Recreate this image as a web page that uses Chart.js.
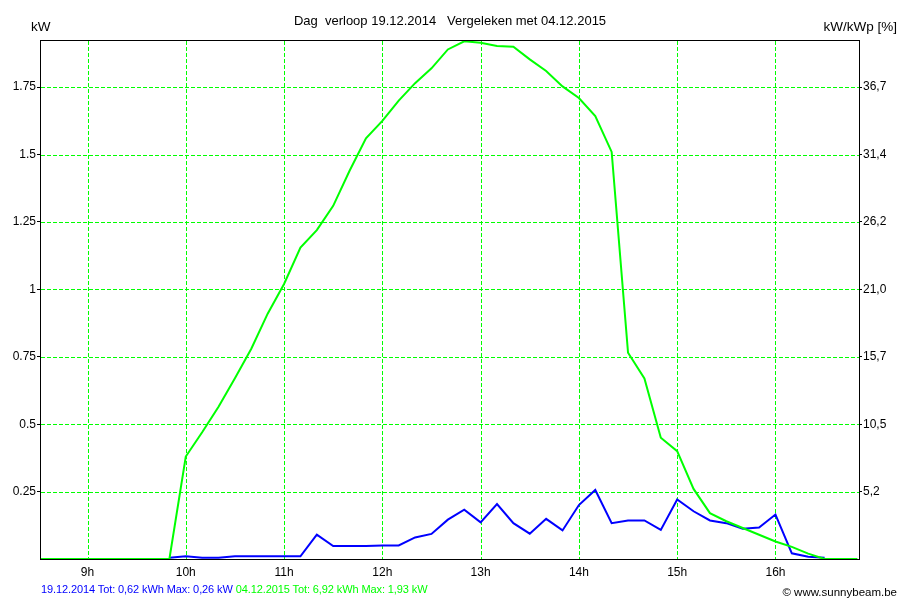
<!DOCTYPE html>
<html>
<head>
<meta charset="utf-8">
<script src="https://cdn.jsdelivr.net/npm/chart.js@4.4.1/dist/chart.umd.min.js"></script>
<style>
    body { margin: 0; background: #fff; }
    #wrap { position: relative; width: 900px; height: 600px; font-family: "Liberation Sans", Arial, sans-serif; font-size: 12px; }
    #wrap canvas { position: absolute; left: 0; top: 0; }
    .lbl { position: absolute; white-space: pre; }
</style>
</head>
<body>
<div id="wrap">
    <canvas id="dayChart" width="900" height="600"></canvas>
    <div class="lbl" style="left:0; width:900px; text-align:center; top:13px; font-size:13px; line-height:15px;">Dag  verloop 19.12.2014   Vergeleken met 04.12.2015</div>
    <div class="lbl" style="left:31px; top:19px; font-size:13.5px; line-height:15px;">kW</div>
    <div class="lbl" style="right:3px; top:19px; font-size:13.5px; line-height:15px;">kW/kWp [%]</div>
    <div class="lbl" style="left:41px; top:583px; font-size:11px; line-height:13px; letter-spacing:-0.1px;"><span style="color:#0000ff">19.12.2014 Tot: 0,62 kWh Max: 0,26 kW</span> <span style="color:#00ff00">04.12.2015 Tot: 6,92 kWh Max: 1,93 kW</span></div>
    <div class="lbl" style="right:3px; top:586px; font-size:11.5px; line-height:13px;">© www.sunnybeam.be</div>
</div>
<script>
// 10 minute samples
const times = [
    '08:30', '08:40', '08:50', '09:00', '09:10', '09:20', '09:30', '09:40', '09:50',
    '10:00', '10:10', '10:20', '10:30', '10:40', '10:50',
    '11:00', '11:10', '11:20', '11:30', '11:40', '11:50',
    '12:00', '12:10', '12:20', '12:30', '12:40', '12:50',
    '13:00', '13:10', '13:20', '13:30', '13:40', '13:50',
    '14:00', '14:10', '14:20', '14:30', '14:40', '14:50',
    '15:00', '15:10', '15:20', '15:30', '15:40', '15:50',
    '16:00', '16:10', '16:20', '16:30', '16:40', '16:50'
];

// 04.12.2015 (green), kW
const power2015 = [
    0, 0, 0, 0, 0, 0, 0, 0, 0,
    0.38, 0.47, 0.565, 0.67, 0.78, 0.91,
    1.02, 1.155, 1.22, 1.31, 1.44, 1.56,
    1.625, 1.70, 1.765, 1.82, 1.89, 1.92,
    1.915, 1.903, 1.90, 1.853, 1.81, 1.753,
    1.71, 1.643, 1.51, 0.765, 0.67, 0.45,
    0.40, 0.26, 0.17, 0.14, 0.115, 0.09,
    0.065, 0.045, 0.02, 0, 0, 0
];

// 19.12.2014 (blue), kW
const power2014 = [
    null, null, null, null, null, null, null, null, 0.005,
    0.01, 0.005, 0.005, 0.01, 0.01, 0.01,
    0.01, 0.01, 0.09, 0.048, 0.048, 0.048,
    0.05, 0.05, 0.08, 0.093, 0.146, 0.183,
    0.136, 0.204, 0.133, 0.094, 0.149, 0.106,
    0.2, 0.256, 0.133, 0.143, 0.143, 0.108,
    0.221, 0.177, 0.143, 0.133, 0.112, 0.117,
    0.165, 0.021, 0.008, 0.005, null, null
];

const hourTicks = [9, 10, 11, 12, 13, 14, 15, 16];
const kwTicks = [0.25, 0.5, 0.75, 1, 1.25, 1.5, 1.75];
const kwLabels = ['0.25', '0.5', '0.75', '1', '1.25', '1.5', '1.75'];
const pctLabels = ['5,2', '10,5', '15,7', '21,0', '26,2', '31,4', '36,7'];

const toHours = (t) => {
    const [h, m] = t.split(':').map(Number);
    return h + m / 60;
};
const toPoints = (values) => times.map((t, i) => ({ x: toHours(t), y: values[i] }));

const gridGreen = '#00ff00';

// crisp dashed grid (4 on, 2 off) at the tick positions of the scales
const dashGridPlugin = {
    id: 'dashGrid',
    beforeDatasetsDraw(chart) {
        const { ctx, chartArea: a, scales } = chart;
        const left = Math.round(a.left), right = Math.round(a.right);
        const top = Math.round(a.top), bottom = Math.round(a.bottom);
        ctx.save();
        ctx.fillStyle = gridGreen;
        scales.x.ticks.forEach(t => {
            const x = Math.round(scales.x.getPixelForValue(t.value));
            for (let y = top + 1; y < bottom; y += 6) {
                ctx.fillRect(x, y, 1, Math.min(4, bottom - y));
            }
        });
        scales.y.ticks.forEach(t => {
            const y = Math.round(scales.y.getPixelForValue(t.value));
            for (let x = left + 1; x < right; x += 6) {
                ctx.fillRect(x, y, Math.min(4, right - x), 1);
            }
        });
        ctx.restore();
    }
};

// black frame round the plot area
const framePlugin = {
    id: 'frame',
    afterDraw(chart) {
        const { ctx, chartArea: a } = chart;
        ctx.save();
        ctx.fillStyle = '#000';
        const left = Math.round(a.left), right = Math.round(a.right);
        const top = Math.round(a.top), bottom = Math.round(a.bottom);
        ctx.fillRect(left, top, right - left + 1, 1);
        ctx.fillRect(left, bottom, right - left + 1, 1);
        ctx.fillRect(left, top, 1, bottom - top + 1);
        ctx.fillRect(right, top, 1, bottom - top + 1);
        ctx.restore();
    }
};

const font = { family: '"Liberation Sans", Arial, sans-serif', size: 12 };

const ctx = document.getElementById('dayChart').getContext('2d');
const dayChart = new Chart(ctx, {
    type: 'line',
    data: {
        datasets: [{
            label: '04.12.2015',
            data: toPoints(power2015),
            borderColor: '#00ff00',
            borderWidth: 2,
            pointRadius: 0,
            tension: 0
        }, {
            label: '19.12.2014',
            data: toPoints(power2014),
            borderColor: '#0000ff',
            borderWidth: 2,
            pointRadius: 0,
            tension: 0
        }]
    },
    options: {
        responsive: false,
        animation: false,
        devicePixelRatio: 1,
        layout: { padding: { top: 40, left: 0, right: 0, bottom: 0 } },
        plugins: {
            legend: { display: false },
            tooltip: { enabled: false }
        },
        scales: {
            x: {
                type: 'linear',
                min: toHours('08:31'),
                max: toHours('16:51'),
                afterBuildTicks: (scale) => { scale.ticks = hourTicks.map(v => ({ value: v })); },
                afterFit: (scale) => { scale.height = 41; },
                border: { display: false },
                grid: { drawOnChartArea: false, drawTicks: false },
                ticks: {
                    font: font,
                    color: '#000',
                    padding: 6,
                    maxRotation: 0,
                    autoSkip: false,
                    callback: (v) => v + 'h'
                }
            },
            y: {
                position: 'left',
                min: 0,
                max: 1.925,
                afterBuildTicks: (scale) => { scale.ticks = kwTicks.map(v => ({ value: v })); },
                afterFit: (scale) => { scale.width = 40; },
                border: { display: false },
                grid: {
                    drawOnChartArea: false,
                    tickLength: 3,
                    color: '#000'
                },
                ticks: {
                    font: font,
                    color: '#000',
                    padding: 1,
                    autoSkip: false,
                    callback: (v, i) => kwLabels[i]
                }
            },
            y2: {
                position: 'right',
                min: 0,
                max: 1.925,
                afterBuildTicks: (scale) => { scale.ticks = kwTicks.map(v => ({ value: v })); },
                afterFit: (scale) => { scale.width = 41; },
                border: { display: false },
                grid: {
                    drawOnChartArea: false,
                    tickLength: 3,
                    color: '#000'
                },
                ticks: {
                    font: font,
                    color: '#000',
                    padding: 1,
                    autoSkip: false,
                    callback: (v, i) => pctLabels[i]
                }
            }
        }
    },
    plugins: [dashGridPlugin, framePlugin]
});
</script>
</body>
</html>
